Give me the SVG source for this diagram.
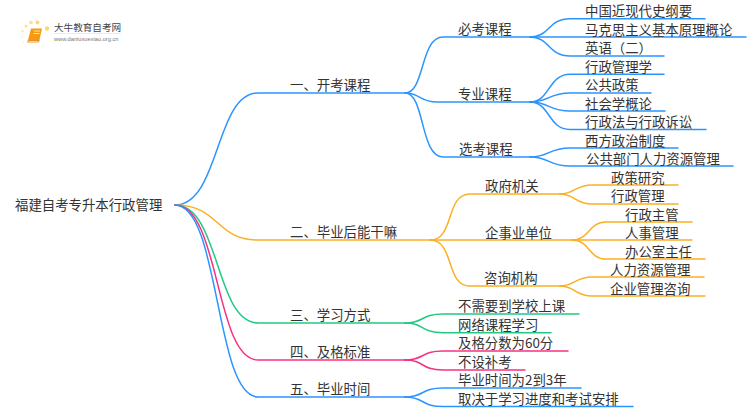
<svg xmlns="http://www.w3.org/2000/svg" width="750" height="410" viewBox="0 0 750 410">
<style>
text{font-family:"Noto Sans CJK SC","Liberation Sans",sans-serif;font-size:13.4px;fill:#333}
#connectors path{fill:none;stroke-width:1.5;stroke-linecap:round}
.b{stroke:#2b95ff}.o{stroke:#fbb024}.g{stroke:#22c983}.p{stroke:#f92f81}
</style>
<rect width="750" height="410" fill="#fff"/>
<g id="logo">
<circle cx="47" cy="28.500" r="2.200" fill="#fcd873"/>
<circle cx="37.500" cy="22.500" r="1.900" fill="#fcd873"/>
<circle cx="31" cy="22.500" r="1.800" fill="#fde08d"/>
<circle cx="26" cy="26" r="1.500" fill="#fde08d"/>
<circle cx="22.500" cy="31" r="1.200" fill="#fee9ae"/>
<circle cx="22" cy="37" r="1" fill="#fef0c8"/>
<circle cx="23.500" cy="42.500" r="0.900" fill="#fef0c8"/>
<path d="M31 28.500h11l-3 13.500h-11.500z" fill="#f59a13"/>
<path d="M27.500 42h11l0.600-1.500h-10.600z" fill="#fff" stroke="#e8820c" stroke-width="0.800"/>
<path d="M34 31h6M33.500 33.500h6" stroke="#fde3a7" stroke-width="1"/>
<text x="54" y="30.500" style="font-size:9.600px;fill:#444">大牛教育自考网</text>
<path d="M54 33.500h67" stroke="#ddd" stroke-width="0.600"/>
<text x="54" y="41" style="font-size:5.700px;fill:#777;font-family:'Liberation Sans',sans-serif">www.daniuxuexiao.org.cn</text>
</g>
<g id="connectors">
<path class="b" d="M175 205C220 205 215 93 258 93H405"/>
<path class="o" d="M175 205C220 205 215 240 258 240H430"/>
<path class="g" d="M175 205C220 205 215 323 258 323H405"/>
<path class="p" d="M175 205C220 205 215 360 258 360H405"/>
<path class="b" d="M175 205C220 205 215 397 258 397H405"/>
<path class="b" d="M405 93C425 93 420 37 443 37H530"/>
<path class="b" d="M405 93C420 93 420 102 437 102H530"/>
<path class="b" d="M405 93C425 93 420 157 443 157H530"/>
<path class="b" d="M530 37C550 37 548 18.700 570 18.700H705"/>
<path class="b" d="M530 37H746"/>
<path class="b" d="M530 37C550 37 548 56 570 56H664"/>
<path class="b" d="M530 102C550 102 548 74.300 570 74.300H664"/>
<path class="b" d="M530 102C550 102 548 93 570 93H651"/>
<path class="b" d="M530 102C550 102 548 111 570 111H665"/>
<path class="b" d="M530 102C550 102 548 129.500 570 129.500H706"/>
<path class="b" d="M530 157C550 157 548 148 570 148H678"/>
<path class="b" d="M530 157C550 157 548 166 570 166H733"/>
<path class="o" d="M430 240C455 240 445 194 470 194H560"/>
<path class="o" d="M430 240H572"/>
<path class="o" d="M430 240C455 240 445 286 470 286H560"/>
<path class="o" d="M560 194C575 194 575 185 592 185H678"/>
<path class="o" d="M560 194C575 194 575 204 592 204H678"/>
<path class="o" d="M572 240C590 240 588 222 606 222H692"/>
<path class="o" d="M572 240H692"/>
<path class="o" d="M572 240C590 240 588 259 606 259H705"/>
<path class="o" d="M560 286C575 286 575 277 592 277H704"/>
<path class="o" d="M560 286C575 286 575 296 592 296H705"/>
<path class="g" d="M405 323C425 323 420 314 443 314H579"/>
<path class="g" d="M405 323C425 323 420 332.700 443 332.700H551"/>
<path class="p" d="M405 360C425 360 420 351 443 351H568"/>
<path class="p" d="M405 360C425 360 420 370 443 370H525"/>
<path class="b" d="M405 397C425 397 420 388 443 388H581"/>
<path class="b" d="M405 397C425 397 420 406.500 443 406.500H633"/>
</g>
<g id="root"><text x="15" y="210">福建自考专升本行政管理</text></g>
<g id="n1"><text x="290" y="90">一、开考课程</text></g>
<g id="n2"><text x="290" y="237">二、毕业后能干嘛</text></g>
<g id="n3"><text x="290" y="320">三、学习方式</text></g>
<g id="n4"><text x="290" y="357">四、及格标准</text></g>
<g id="n5"><text x="290" y="394">五、毕业时间</text></g>
<g id="n1a"><text x="458" y="34">必考课程</text></g>
<g id="n1b"><text x="458" y="99">专业课程</text></g>
<g id="n1c"><text x="459" y="154">选考课程</text></g>
<g id="n1a1"><text x="585" y="16">中国近现代史纲要</text></g>
<g id="n1a2"><text x="585" y="34.500">马克思主义基本原理概论</text></g>
<g id="n1a3"><text x="585" y="53">英语（二）</text></g>
<g id="n1b1"><text x="585" y="71.500">行政管理学</text></g>
<g id="n1b2"><text x="585" y="90">公共政策</text></g>
<g id="n1b3"><text x="585" y="108.500">社会学概论</text></g>
<g id="n1b4"><text x="585" y="127">行政法与行政诉讼</text></g>
<g id="n1c1"><text x="585" y="145.500">西方政治制度</text></g>
<g id="n1c2"><text x="586" y="164">公共部门人力资源管理</text></g>
<g id="n2a"><text x="485" y="191">政府机关</text></g>
<g id="n2b"><text x="485" y="237.500">企事业单位</text></g>
<g id="n2c"><text x="484" y="283">咨询机构</text></g>
<g id="n2a1"><text x="611" y="182.500">政策研究</text></g>
<g id="n2a2"><text x="611" y="201">行政管理</text></g>
<g id="n2b1"><text x="625" y="219.500">行政主管</text></g>
<g id="n2b2"><text x="625" y="238">人事管理</text></g>
<g id="n2b3"><text x="625" y="256.500">办公室主任</text></g>
<g id="n2c1"><text x="610" y="275">人力资源管理</text></g>
<g id="n2c2"><text x="610" y="293.500">企业管理咨询</text></g>
<g id="n3a"><text x="458" y="311">不需要到学校上课</text></g>
<g id="n3b"><text x="458" y="329.500">网络课程学习</text></g>
<g id="n4a"><text x="458" y="348">及格分数为60分</text></g>
<g id="n4b"><text x="458" y="366.500">不设补考</text></g>
<g id="n5a"><text x="458" y="385">毕业时间为2到3年</text></g>
<g id="n5b"><text x="458" y="403.500">取决于学习进度和考试安排</text></g>
</svg>
